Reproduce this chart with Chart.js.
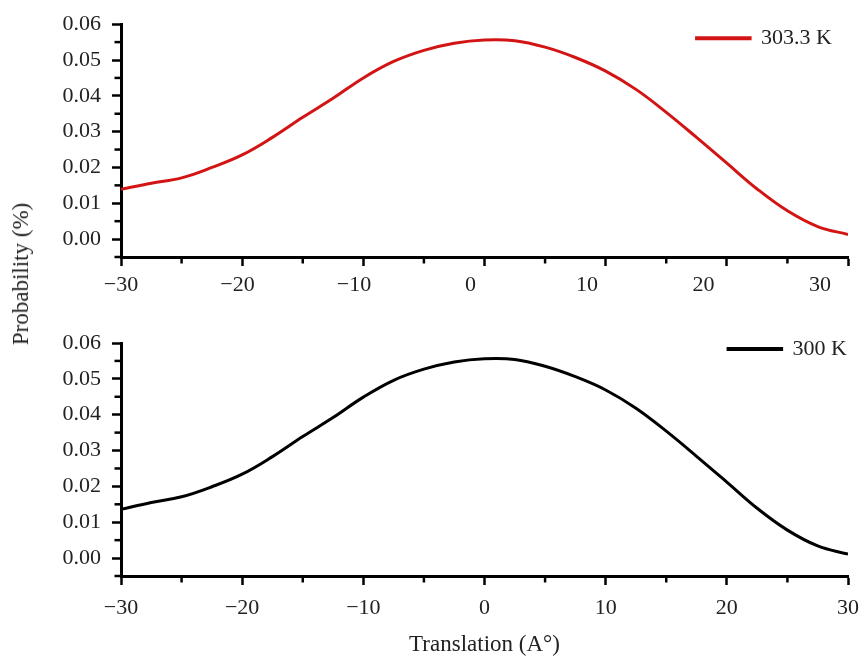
<!DOCTYPE html>
<html>
<head>
<meta charset="utf-8">
<script src="https://cdn.jsdelivr.net/npm/chart.js@4/dist/chart.umd.min.js"></script>
<style>
  html, body { margin: 0; padding: 0; background: #fff; }
  body { width: 863px; height: 657px; position: relative; overflow: hidden; font-family: "Liberation Serif", serif; }
  canvas { position: absolute; left: 0; }
  #top { top: 0; }
  #bottom { top: 300px; }
  #ytitle {
    position: absolute; left: 21px; top: 274px;
    transform: translate(-50%, -50%) rotate(-90deg);
    font-size: 23px; color: #222; white-space: nowrap;
  }
</style>
</head>
<body>
<canvas id="top" width="863" height="300"></canvas>
<canvas id="bottom" width="863" height="360"></canvas>
<div id="ytitle">Probability (%)</div>
<script>
// ---- data ----
const xVals = [-30, -27.5, -25, -22.5, -20, -17.5, -15, -12.5, -10, -7.5, -5, -2.5, 0,
               2.5, 5, 7.5, 10, 12.5, 15, 17.5, 20, 22.5, 25, 27.5, 30];
const prob303 = [0.0139, 0.0156, 0.0171, 0.0200, 0.0235, 0.0284, 0.0340, 0.0393, 0.0450, 0.0496, 0.0527, 0.0547, 0.0556,
                 0.0554, 0.0536, 0.0507, 0.0469, 0.0418, 0.0354, 0.0284, 0.0212, 0.0140, 0.0079, 0.0035, 0.0013];
const prob300 = [0.0136, 0.0155, 0.0171, 0.0199, 0.0234, 0.0283, 0.0339, 0.0392, 0.0449, 0.0496, 0.0527, 0.0547, 0.0556,
                 0.0554, 0.0535, 0.0506, 0.0469, 0.0418, 0.0354, 0.0284, 0.0212, 0.0139, 0.0078, 0.0034, 0.0011];

const xTicks = [-30, -20, -10, 0, 10, 20, 30];
const xMinor = [-25, -15, -5, 5, 15, 25];
const yTicks = [0, 0.01, 0.02, 0.03, 0.04, 0.05, 0.06];
const yMinor = [-0.005, 0.005, 0.015, 0.025, 0.035, 0.045, 0.055];

const RED = "#d31414";
const INK = "#222";
const tickFont = { family: "Liberation Serif", size: 22 };

function fmtX(v) { return v < 0 ? "\u2212" + Math.abs(v) : String(v); }

// short minor tick marks on both axes
const minorTicks = {
  id: "minorTicks",
  afterDraw(chart) {
    const { ctx } = chart;
    const xs = chart.scales.x, ys = chart.scales.y;
    ctx.save();
    ctx.strokeStyle = "#000";
    ctx.lineWidth = 2.5;
    xMinor.forEach(v => {
      const p = xs.getPixelForValue(v);
      ctx.beginPath(); ctx.moveTo(p, xs.top); ctx.lineTo(p, xs.top + 6.5); ctx.stroke();
    });
    yMinor.forEach(v => {
      const p = ys.getPixelForValue(v);
      ctx.beginPath(); ctx.moveTo(ys.right, p); ctx.lineTo(ys.right - 6.5, p); ctx.stroke();
    });
    ctx.restore();
  }
};

// put the legend in the upper right corner of the plot
const legendShift = {
  id: "legendShift",
  afterLayout(chart, args, opts) {
    const lg = chart.legend, area = chart.chartArea;
    const ctx = chart.ctx;
    ctx.save();
    ctx.font = tickFont.size + "px " + tickFont.family;
    const w = 55 + tickFont.size / 2 + ctx.measureText(chart.data.datasets[0].label).width;
    ctx.restore();
    const h = lg.bottom - lg.top;
    lg.left = area.right - w + opts.dx; lg.right = lg.left + w;
    lg.top = area.top + opts.dy; lg.bottom = lg.top + h;
  }
};

function yScale() {
  return {
    type: "linear", min: -0.005, max: 0.06,
    afterBuildTicks: s => { s.ticks = yTicks.map(v => ({ value: v })); },
    afterFit: s => { s.width = 121; },
    border: { display: true, width: 3, color: "#000" },
    grid: { drawOnChartArea: false, tickLength: 9, tickWidth: 2.5, tickColor: "#000" },
    ticks: { font: tickFont, color: INK, padding: 11, callback: v => v.toFixed(2) }
  };
}

function makeChart(id, label, color, values, opts) {
  const scales = {
    x: {
      type: "linear", min: -30, max: 30,
      afterBuildTicks: s => { s.ticks = xTicks.map(v => ({ value: v })); },
      afterFit: s => { s.height = opts.xHeight; s.paddingLeft = 0; s.paddingRight = 0; },
      border: { display: true, width: 3, color: "#000" },
      grid: { drawOnChartArea: false, tickLength: 9, tickWidth: 2.5, tickColor: "#000" },
      ticks: { display: opts.xLabels, font: tickFont, color: INK, padding: 10, maxRotation: 0, callback: fmtX },
      title: opts.xTitle
    },
    y: yScale()
  };
  if (opts.labelAxis) scales.xl = opts.labelAxis;

  return new Chart(document.getElementById(id), {
    type: "line",
    data: {
      datasets: [{
        label: label,
        data: xVals.map((x, i) => ({ x: x, y: values[i] })),
        borderColor: color, backgroundColor: color,
        borderWidth: 3, pointRadius: 0, tension: 0.4, fill: false
      }]
    },
    options: {
      responsive: false, animation: false, devicePixelRatio: 1,
      layout: { padding: { left: 0, right: 15, top: opts.padTop, bottom: 0 } },
      scales: scales,
      plugins: {
        legend: {
          position: "chartArea", align: "start",
          labels: { boxWidth: 55, boxHeight: 1, padding: 0, font: tickFont, color: INK }
        },
        legendShift: opts.shift,
        tooltip: { enabled: false }
      }
    },
    plugins: [minorTicks, legendShift]
  });
}

// top panel: its tick labels sit on a slightly wider scale than the tick marks
makeChart("top", "303.3 K", RED, prob303, {
  padTop: 23, xHeight: 10, xLabels: false, xTitle: { display: false },
  shift: { dx: -16, dy: 3 },
  labelAxis: {
    type: "linear", position: "bottom", min: -30, max: 32.4, weight: 1,
    afterBuildTicks: s => { s.ticks = xTicks.map(v => ({ value: v })); },
    afterFit: s => { s.height = 33; s.paddingLeft = 0; s.paddingRight = 0; },
    border: { display: false },
    grid: { display: false, drawTicks: false },
    ticks: { font: tickFont, color: INK, padding: 5, maxRotation: 0, callback: fmtX }
  }
});

makeChart("bottom", "300 K", "#000", prob300, {
  padTop: 43, xHeight: 84, xLabels: true,
  xTitle: { display: true, text: "Translation (A\u00b0)", color: INK,
            font: { family: "Liberation Serif", size: 23 }, padding: { top: 0, bottom: 1 } },
  shift: { dx: -1, dy: -5 }
});
</script>
</body>
</html>
